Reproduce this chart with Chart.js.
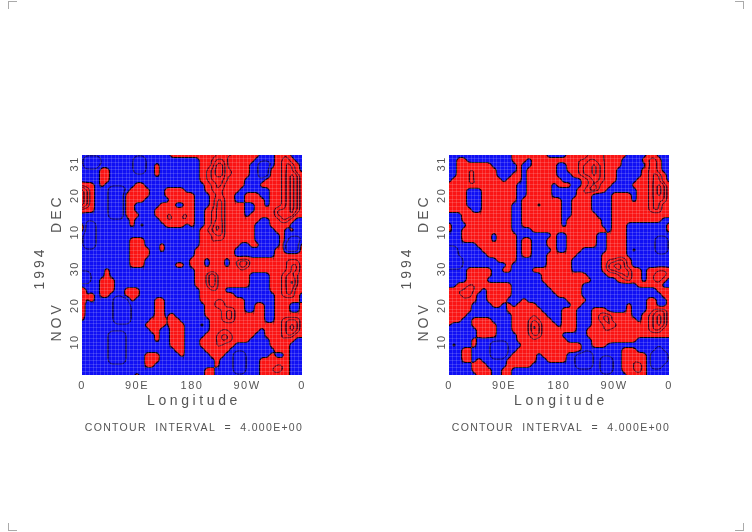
<!DOCTYPE html>
<html lang="en">

<head>
  <meta charset="UTF-8">
  <title>Longitude-time sections 1994</title>
  <script src="https://cdn.jsdelivr.net/npm/chart.js"></script>
  <style>
    body { margin: 0; background: #fff; }
    canvas { position: absolute; top: 0; }
    #panelLeft { left: 0; }
    #panelRight { left: 367px; }
    .mark { position: absolute; background: #aaa; }
  </style>
</head>

<body>
  <div class="mark" style="left:8px;top:1px;width:9px;height:1px"></div>
  <div class="mark" style="left:8px;top:1px;width:1px;height:8px"></div>
  <div class="mark" style="left:735px;top:1px;width:9px;height:1px"></div>
  <div class="mark" style="left:743px;top:1px;width:1px;height:8px"></div>
  <div class="mark" style="left:8px;top:530px;width:9px;height:1px"></div>
  <div class="mark" style="left:8px;top:523px;width:1px;height:8px"></div>
  <div class="mark" style="left:735px;top:530px;width:9px;height:1px"></div>
  <div class="mark" style="left:743px;top:523px;width:1px;height:8px"></div>
  <canvas id="panelLeft" width="376" height="532"></canvas>
  <canvas id="panelRight" width="376" height="532"></canvas>

  <script>
    // Axis labels
    const lonTicks = [0, 90, 180, 270, 360];
    const lonLabels = ['0', '90E', '180', '90W', '0'];
    // days counted from 1 Nov, the last one is pulled in a bit like the original
    const dayTicks = [10, 20, 30, 40, 50, 58.6];
    const dayLabels = ['10', '20', '30', '10', '20', '31'];
    const contourText = 'CONTOUR  INTERVAL  =  4.000E+00';

    // Fields: rows run from 31 Dec down to 1 Nov, columns 0 to 360.
    // Only relative units, 4.5 is the red/blue boundary.
    const leftField = [
      '33333 33333 33333 33366 66666 66777 77666 63336 67333',
      '31113 33333 31133 33333 33336 67887 66666 33336 78633',
      '31113 33333 31133 63333 33336 67997 66663 31136 78863',
      '33336 63333 31133 63333 33336 78997 76663 31166 78863',
      '33336 63333 33333 63333 33336 78997 76663 31166 78986',
      '33336 63333 33333 33333 33336 78887 66633 33666 78986',
      '76636 33333 36633 33333 33333 67886 66633 36666 78986',
      '98633 31113 66663 33666 63333 67876 66333 33366 78986',
      '98633 31116 66663 33666 66633 36776 63366 63366 78986',
      '98633 31116 66633 33366 66633 36886 63366 66366 78986',
      '98633 31116 63333 36663 36633 36886 66633 66366 78986',
      '76633 31116 63333 66766 67633 67886 66633 66668 88986',
      '33333 31116 66333 66776 77633 67886 66636 66668 88966',
      '33333 33333 63333 36776 77633 67886 66666 63366 88633',
      '61133 33333 63633 33666 63633 67986 66666 33366 66333',
      '61133 33333 33333 33333 33336 78986 66666 33336 63633',
      '31133 33333 33333 33333 33336 67886 66666 33333 63333',
      '31133 33333 66633 33333 33336 67776 66666 33333 63113',
      '31133 33333 67633 36333 33336 67666 66336 63333 61116',
      '33333 33333 67763 36333 33366 66666 63333 33336 61116',
      '33333 33333 66763 33333 33366 66666 63333 33336 66666',
      '33333 33333 66633 33333 33666 36663 67886 66666 67776',
      '33333 33333 66633 33336 63666 36663 67986 66676 67886',
      '33333 63333 33333 33333 33366 66666 66766 66666 67886',
      '11333 63333 33333 33333 33366 79766 66663 33366 78876',
      '11336 66333 33333 33333 33366 79766 66663 33366 78976',
      '33336 66333 33333 33333 33366 79766 66663 33366 78976',
      '74336 66336 66333 33333 33336 67763 33333 33366 78866',
      '74636 63336 66333 33333 33336 66666 63333 33336 78863',
      '74633 33111 63333 66333 33336 66776 66633 33336 66663',
      '73333 33111 33333 66333 33333 66886 66633 66336 66336',
      '73333 33111 33333 66333 33333 66678 86633 66336 66336',
      '73333 33111 33333 65463 33333 66678 86666 66336 66666',
      '53333 33111 33336 66466 33333 36678 86666 66336 78886',
      '33333 33333 33366 66467 63336 36666 66666 66666 78986',
      '33333 33333 33336 63367 63333 36677 66666 63666 78986',
      '33333 31113 33333 63367 63333 66788 76666 33666 78866',
      '33333 31113 33333 63367 63336 66788 76663 33366 76633',
      '33333 31113 33333 33366 63336 66776 63333 33366 66333',
      '33333 31113 33333 33336 63333 66766 33333 33336 66333',
      '33333 31113 33366 63333 63333 36663 31133 33363 36333',
      '33333 31113 33366 63333 33333 33633 31133 36666 66333',
      '33333 33333 33366 33333 33333 33633 31133 36667 76333',
      '33333 33333 33333 33333 33333 66333 31133 36678 76333',
      '33333 33333 36333 33333 33333 66333 33333 36666 66333'
    ];

    const rightField = [
      '33333 33333 53366 66666 33336 66677 77666 63333 66333',
      '33663 33333 33366 63666 66666 67788 77666 33336 78633',
      '33666 66663 33336 33666 66336 67889 87666 33333 78633',
      '33667 76666 33336 36666 66336 67889 87663 33336 78633',
      '33667 76666 33366 36676 66333 67889 87663 33336 78863',
      '36667 76666 63666 36776 66633 33678 87663 33366 78863',
      '66667 77666 66663 36766 63666 33678 76633 33666 78986',
      '66663 33666 66663 36666 63333 36789 76333 33366 78986',
      '66663 33666 66663 36666 63333 36763 33366 66366 78986',
      '66663 33666 66663 66666 66633 66763 33366 66366 78886',
      '66663 33666 66633 66636 66633 66763 33366 66666 78866',
      '66666 33666 66633 66666 66633 66763 33366 66666 78866',
      '33366 66666 66633 66666 66633 66766 33366 66666 66666',
      '33366 66666 66633 66666 66636 66666 63366 66666 66633',
      '63336 66666 66633 66666 66636 66666 63366 63333 33336',
      '63366 66666 66633 33666 66666 66666 66366 63333 33336',
      '33366 66663 66663 33333 36336 66666 33666 63333 33333',
      '33366 66663 66663 66333 66336 66666 33666 63333 33113',
      '33333 36666 66663 66333 66336 66666 33666 63333 33113',
      '11333 33666 66663 66333 36336 66333 33666 63633 33113',
      '11333 33366 66663 66333 66666 63333 36666 63333 33333',
      '11133 33333 66663 33333 66666 33333 36778 86333 33333',
      '11133 33333 33633 33333 66666 33333 36899 86333 33333',
      '33336 66663 36633 33666 66666 33333 36889 88663 66776',
      '33336 67663 33333 33336 66766 67633 33667 88663 67886',
      '33336 67633 33333 33336 66766 66763 33336 78663 67863',
      '33667 76666 66633 33333 66766 67333 33333 33366 66633',
      '66778 76366 76633 33333 36766 66333 33333 33333 33666',
      '66778 63366 76633 33333 33666 66333 33333 33333 33366',
      '66676 63366 66333 63333 33336 66633 33333 33333 66336',
      '66666 33336 63636 66633 33333 66333 33333 36333 66336',
      '66666 33333 33666 66663 33366 63336 66333 36333 67886',
      '66663 33333 33366 66766 33366 63336 78866 66336 78986',
      '66633 66663 33366 67876 63366 63336 78866 66636 78986',
      '53333 66766 33366 67986 66366 63336 67886 66666 78986',
      '33333 36766 33366 67986 66666 63366 67766 66666 78866',
      '33333 36766 33336 67886 66633 33366 66666 66666 66666',
      '33333 63333 33336 66766 66663 33336 66766 66633 33333',
      '36333 63331 11333 64666 66666 66336 66333 33333 33333',
      '33366 33331 11336 64666 66666 66333 33333 66633 33133',
      '33366 33331 11366 66636 66663 31113 33333 66666 31113',
      '33366 36333 33666 67633 66663 31113 31133 66766 31113',
      '33333 66633 33666 66333 33333 31113 31133 66786 31133',
      '33333 66663 36633 33333 33333 33333 31133 66786 33333',
      '33333 36663 36633 33333 33333 33333 33333 36666 33333'
    ];

    const boundaryLevel = 4.5;
    const thinLevels = [2.5, 6.9, 7.8, 8.6];

    function parseField(rows) {
      return rows.map(row => row.replace(/ /g, '').split('').map(Number));
    }

    // Finer grid for drawing only, so the contours come out round instead of blocky
    function refineField(field, k) {
      const rows = (field.length - 1) * k + 1;
      const cols = (field[0].length - 1) * k + 1;
      let out = [];
      for (let r = 0; r < rows; r++) {
        const line = [];
        const r0 = Math.min(Math.floor(r / k), field.length - 2);
        const fr = r / k - r0;
        for (let c = 0; c < cols; c++) {
          const c0 = Math.min(Math.floor(c / k), field[0].length - 2);
          const fc = c / k - c0;
          const top = field[r0][c0] * (1 - fc) + field[r0][c0 + 1] * fc;
          const bottom = field[r0 + 1][c0] * (1 - fc) + field[r0 + 1][c0 + 1] * fc;
          line.push(top * (1 - fr) + bottom * fr);
        }
        out.push(line);
      }
      for (let pass = 0; pass < 2; pass++) {
        const src = out;
        out = src.map((line, r) => line.map((_, c) => {
          let sum = 0;
          for (let dr = -1; dr <= 1; dr++) {
            for (let dc = -1; dc <= 1; dc++) {
              const rr = Math.max(0, Math.min(rows - 1, r + dr));
              const cc = Math.max(0, Math.min(cols - 1, c + dc));
              sum += src[rr][cc] * (2 - Math.abs(dr)) * (2 - Math.abs(dc));
            }
          }
          return sum / 16;
        }));
      }
      return out;
    }

    function lonAt(col, field) {
      return col * 360 / (field[0].length - 1);
    }

    function dayAt(row, field) {
      return 61 - row * 60 / (field.length - 1);
    }

    // corners of one grid square, clockwise, as [col, row, value]
    function squareCorners(field, r, c) {
      return [
        [c, r, field[r][c]],
        [c + 1, r, field[r][c + 1]],
        [c + 1, r + 1, field[r + 1][c + 1]],
        [c, r + 1, field[r + 1][c]]
      ];
    }

    function crossing(a, b, level) {
      const t = (level - a[2]) / (b[2] - a[2]);
      return [a[0] + (b[0] - a[0]) * t, a[1] + (b[1] - a[1]) * t];
    }

    // Marching squares, gives one line series with gaps between the pieces
    function contourPoints(field, level) {
      const pts = [];
      for (let r = 0; r < field.length - 1; r++) {
        for (let c = 0; c < field[r].length - 1; c++) {
          const corners = squareCorners(field, r, c);
          const hits = [];
          for (let i = 0; i < 4; i++) {
            const a = corners[i], b = corners[(i + 1) % 4];
            if ((a[2] > level) !== (b[2] > level)) hits.push(crossing(a, b, level));
          }
          for (let i = 0; i + 1 < hits.length; i += 2) {
            pts.push({ x: lonAt(hits[i][0], field), y: dayAt(hits[i][1], field) });
            pts.push({ x: lonAt(hits[i + 1][0], field), y: dayAt(hits[i + 1][1], field) });
            pts.push({ x: NaN, y: NaN });
          }
        }
      }
      return pts;
    }

    // Blue under everything, red where the field is above the boundary
    const fillPlugin = {
      id: 'fieldFill',
      beforeDatasetsDraw(chart, args, opts) {
        const { ctx, chartArea, scales } = chart;
        const field = opts.field;
        ctx.save();
        ctx.fillStyle = '#1010f4';
        ctx.fillRect(chartArea.left, chartArea.top, chartArea.width, chartArea.height);
        ctx.beginPath();
        for (let r = 0; r < field.length - 1; r++) {
          for (let c = 0; c < field[r].length - 1; c++) {
            const corners = squareCorners(field, r, c);
            const poly = [];
            for (let i = 0; i < 4; i++) {
              const a = corners[i], b = corners[(i + 1) % 4];
              if (a[2] > boundaryLevel) poly.push([a[0], a[1]]);
              if ((a[2] > boundaryLevel) !== (b[2] > boundaryLevel)) poly.push(crossing(a, b, boundaryLevel));
            }
            poly.forEach((p, i) => {
              const px = scales.x.getPixelForValue(lonAt(p[0], field));
              const py = scales.y.getPixelForValue(dayAt(p[1], field));
              if (i === 0) ctx.moveTo(px, py); else ctx.lineTo(px, py);
            });
            if (poly.length) ctx.closePath();
          }
        }
        ctx.fillStyle = '#fa1414';
        ctx.fill();
        ctx.restore();
      }
    };

    function spacedText(ctx, text, x, y, font, spacing, rotated) {
      ctx.save();
      ctx.font = font;
      ctx.letterSpacing = spacing;
      ctx.fillStyle = '#555';
      ctx.textAlign = 'center';
      ctx.textBaseline = 'middle';
      ctx.translate(x, y);
      if (rotated) ctx.rotate(-Math.PI / 2);
      ctx.fillText(text, 0, 0);
      ctx.restore();
    }

    // Axis names and the footer line, spaced out like the plotter font
    const textPlugin = {
      id: 'panelText',
      beforeDraw(chart) {
        chart.ctx.letterSpacing = '1.5px';
      },
      afterDraw(chart) {
        const { ctx, chartArea, scales } = chart;
        const big = '14px "Liberation Sans"';
        const mid = chartArea.left + chartArea.width / 2;
        spacedText(ctx, 'Longitude', mid + 2, 401, big, '3.6px', false);
        spacedText(ctx, contourText, mid + 2, 428, '10.5px "Liberation Sans"', '1.3px', false);
        spacedText(ctx, '1994', chartArea.left - 42, scales.y.getPixelForValue(30.2), big, '3px', true);
        spacedText(ctx, 'DEC', chartArea.left - 25, scales.y.getPixelForValue(45), big, '3px', true);
        spacedText(ctx, 'NOV', chartArea.left - 25, scales.y.getPixelForValue(15.5), big, '3px', true);
      }
    };

    function meshTicks(max, step) {
      const ticks = [];
      for (let v = step; v < max; v += step) ticks.push({ value: v });
      return ticks;
    }

    function makePanel(id, rows) {
      const field = refineField(parseField(rows), 3);
      const datasets = thinLevels.map(level => ({
        data: contourPoints(field, level),
        showLine: true,
        pointRadius: 0,
        borderColor: 'rgba(20,10,40,0.7)',
        borderWidth: 0.8,
        borderCapStyle: 'round',
        xAxisID: 'x',
        yAxisID: 'y'
      }));
      datasets.push({
        data: contourPoints(field, boundaryLevel),
        showLine: true,
        pointRadius: 0,
        borderColor: '#08040c',
        borderWidth: 1.1,
        borderCapStyle: 'round',
        xAxisID: 'x',
        yAxisID: 'y'
      });

      const font = { family: '"Liberation Sans"', size: 11 };
      return new Chart(document.getElementById(id), {
        type: 'scatter',
        data: { datasets: datasets },
        plugins: [fillPlugin, textPlugin],
        options: {
          responsive: false,
          animation: false,
          layout: { padding: { left: 0, right: 74, top: 155, bottom: 127 } },
          plugins: {
            legend: { display: false },
            tooltip: { enabled: false },
            fieldFill: { field: field }
          },
          scales: {
            x: {
              type: 'linear',
              min: 0,
              max: 360,
              afterBuildTicks: s => { s.ticks = lonTicks.map(v => ({ value: v })); },
              afterFit: s => { s.height = 30; },
              grid: { display: false, drawTicks: false },
              border: { display: false },
              ticks: {
                autoSkip: false,
                maxRotation: 0,
                padding: 4,
                color: '#555',
                font: font,
                callback: (value, i) => lonLabels[i]
              }
            },
            y: {
              type: 'linear',
              min: 1,
              max: 61,
              afterBuildTicks: s => { s.ticks = dayTicks.map(v => ({ value: v })); },
              afterFit: s => { s.width = 82; },
              grid: { display: false, drawTicks: false },
              border: { display: false },
              ticks: {
                autoSkip: false,
                minRotation: 90,
                maxRotation: 90,
                crossAlign: 'center',
                padding: 1,
                color: '#555',
                font: font,
                callback: (value, i) => dayLabels[i]
              }
            },
            // extra axes only for the light mesh over the shading
            meshX: {
              type: 'linear',
              position: 'bottom',
              min: 0,
              max: 360,
              afterBuildTicks: s => { s.ticks = meshTicks(360, 6); },
              afterFit: s => { s.height = 0; },
              grid: { color: 'rgba(255,255,255,0.15)', lineWidth: 1, drawTicks: false, z: 1 },
              border: { display: false },
              ticks: { display: false, autoSkip: false }
            },
            meshY: {
              type: 'linear',
              position: 'left',
              min: 1,
              max: 61,
              afterBuildTicks: s => { s.ticks = meshTicks(61, 1); },
              afterFit: s => { s.width = 0; },
              grid: { color: 'rgba(255,255,255,0.15)', lineWidth: 1, drawTicks: false, z: 1 },
              border: { display: false },
              ticks: { display: false, autoSkip: false }
            }
          }
        }
      });
    }

    makePanel('panelLeft', leftField);
    makePanel('panelRight', rightField);
  </script>
</body>

</html>
